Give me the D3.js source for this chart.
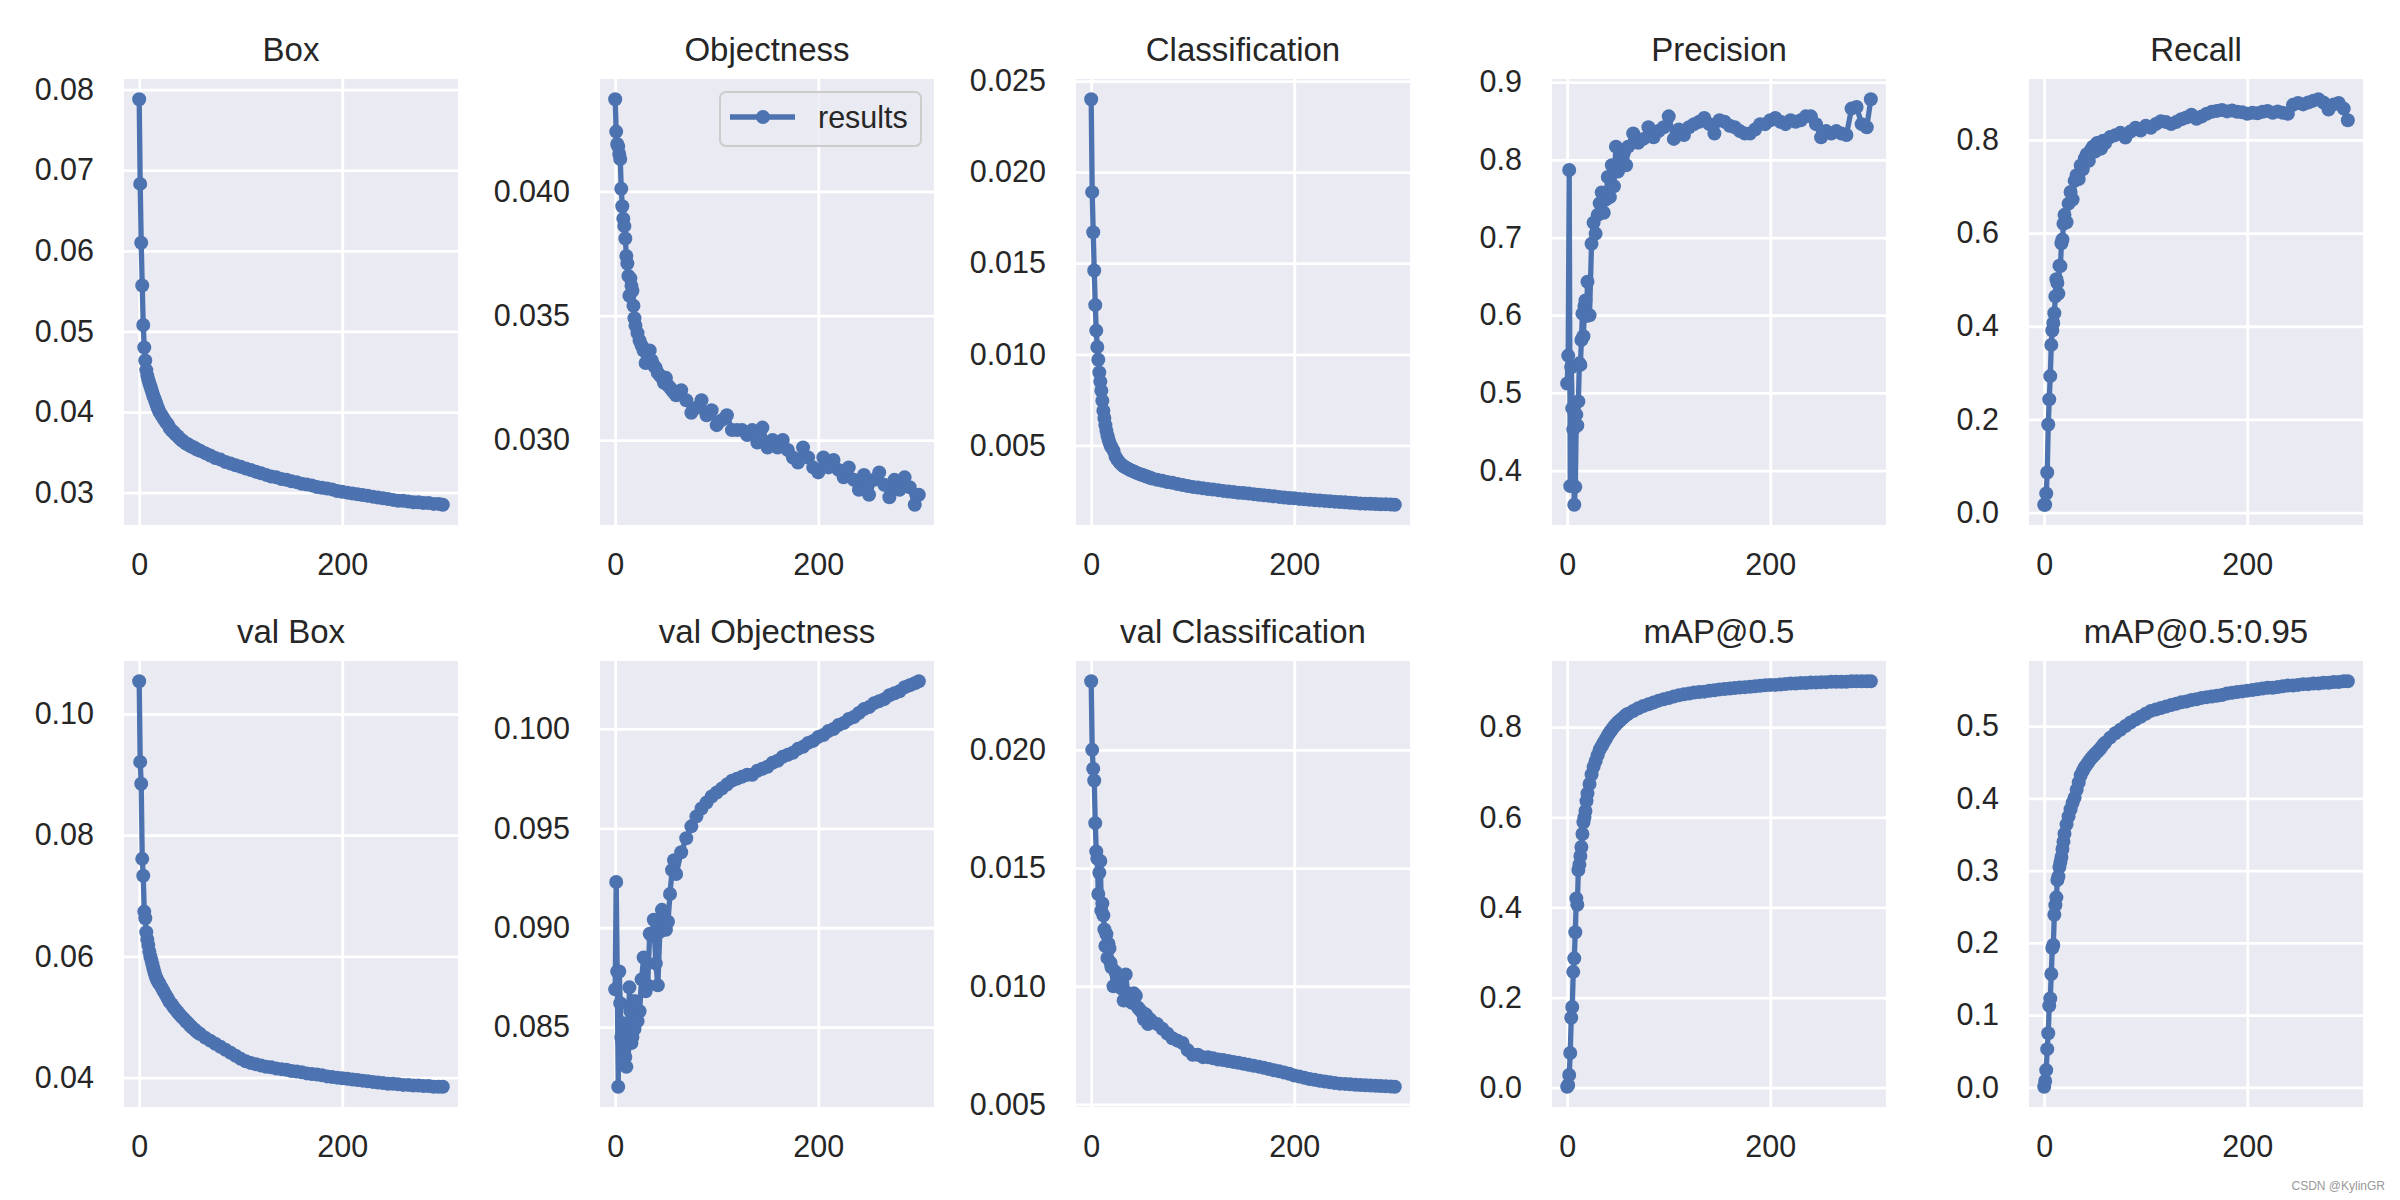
<!DOCTYPE html>
<html><head><meta charset="utf-8">
<script src="https://cdn.jsdelivr.net/npm/d3@7"></script>
<style>
body{margin:0;background:#fff;}
svg{display:block;font-family:"Liberation Sans",Arial,Helvetica,sans-serif;}
</style>
</head><body>
<svg id="chart" width="2400" height="1200"></svg>
<script>
// ---------- data ----------
const epochs = [0,1,2,3,4,5,6,7,8,9,10,11,12,13,14,15,16,17,18,19,
  20,22,24,26,28,30,32,34,36,38,40,42,44,46,48,50,52,54,56,58,60,
  65,70,75,80,85,90,95,100,105,110,115,120,125,130,135,140,145,150,155,160,165,170,175,180,185,190,195,200,205,210,215,220,225,230,235,240,245,250,255,260,265,270,275,280,285,290,295,
  299];

const titles = ["Box","Objectness","Classification","Precision","Recall",
  "val Box","val Objectness","val Classification","mAP@0.5","mAP@0.5:0.95"];

const boxLoss = [.0788,.0683,.0610,.0557,.0508,.0480,.0464,.0452,.0445,.0440,.0436,.0432,.0428,.0424,.0420,.0417,.0413,.0410,.0406,.0403,
  .0400,.0396,.0392,.0388,.0385,.0380,.0377,.0375,.0372,.0370,.0367,.0365,.0363,.0361,.0360,.0358,.0357,.0356,.0354,.0353,.0352,
  .0349,.0346,.0343,.0341,.0338,.0336,.0334,.0332,.0330,.0328,.0326,.0324,.0322,.0320,.0319,.0317,.0316,.0314,.0313,.0311,.0310,.0309,.0307,.0306,.0305,.0304,.0302,.0301,.0300,.0299,.0298,.0297,.0296,.0295,.0294,.0293,.0292,.0291,.0290,.0290,.0289,.0288,.0288,.0287,.0287,.0286,.0286,
  .0285];

const objLoss = [.0437,.0424,.0419,.0418,.0415,.0413,.0401,.0394,.0389,.0386,.0381,.0374,.0371,.0366,.0358,.0365,.0362,.0360,.0354,.0349,
  .0346,.0343,.0340,.0338,.0336,.0331,.0334,.0336,.0332,.0330,.0329,.0327,.0326,.0325,.0323,.0325,.0322,.0321,.0320,.0319,.0318,
  .0320,.0316,.0311,.0313,.0316,.0310,.0312,.0306,.0308,.0310,.0304,.0304,.0304,.0302,.0304,.0299,.0305,.0297,.0300,.0297,.0300,.0296,.0293,.0291,.0297,.0293,.0289,.0287,.0293,.0289,.0292,.0288,.0285,.0289,.0284,.0280,.0286,.0278,.0284,.0287,.0282,.0277,.0284,.0280,.0285,.0281,.0274,
  .0278];

const clsLoss = [.0240,.0189,.0167,.0146,.0127,.0113,.0104,.0097,.0090,.0085,.0080,.00745,.0069,.0065,.0061,.0058,.00555,.00535,.00515,.0050,
  .0049,.0047,.00438,.0042,.00405,.00394,.00385,.00378,.00372,.00366,.00361,.00356,.00351,.00346,.00342,.00338,.00334,.0033,.00326,.00322,.00318,
  .00311,.00305,.00299,.00294,.00288,.00282,.00277,.00272,.00268,.00264,.0026,.00257,.00254,.0025,.00247,.00244,.0024,.00238,.00235,.00232,.00229,.00226,.00223,.0022,.00217,.00214,.00211,.00209,.00206,.00204,.00201,.00199,.00197,.00195,.00193,.00191,.00189,.00187,.00185,.00183,.00181,.0018,.00179,.00178,.00177,.00176,.00175,
  .00174];

const precision = [.512,.548,.787,.380,.533,.480,.453,.356,.379,.472,.458,.489,.538,.536,.568,.602,.573,.612,.619,.599,
  .643,.600,.692,.719,.705,.729,.744,.758,.732,.749,.778,.752,.793,.766,.817,.785,.800,.793,.810,.793,.817,
  .834,.822,.827,.842,.829,.837,.842,.856,.827,.839,.832,.842,.846,.849,.854,.846,.834,.851,.849,.844,.842,.837,.834,.834,.839,.846,.846,.851,.854,.849,.846,.851,.849,.851,.856,.856,.846,.829,.837,.834,.837,.834,.832,.866,.868,.846,.842,
  .878];

const recall = [.017,.017,.041,.086,.189,.243,.293,.360,.391,.407,.428,.464,.501,.493,.470,.530,.529,.578,.586,.620,
  .639,.623,.663,.688,.672,.712,.724,.716,.745,.737,.760,.769,.755,.778,.785,.775,.793,.788,.781,.798,.793,
  .806,.810,.815,.805,.818,.826,.820,.830,.826,.834,.840,.838,.834,.838,.844,.848,.854,.845,.850,.856,.860,.862,.864,.861,.863,.860,.859,.856,.858,.857,.860,.862,.858,.861,.858,.856,.875,.879,.876,.880,.884,.887,.880,.865,.876,.879,.867,
  .842];

const valBoxLoss = [.1054,.0921,.0885,.0761,.0733,.0674,.0663,.0640,.0628,.0619,.0608,.0600,.0594,.0587,.0580,.0574,.0568,.0564,.0560,.0557,
  .0555,.0549,.0543,.0537,.0531,.0525,.0521,.0516,.0512,.0508,.0504,.0500,.0497,.0493,.0490,.0486,.0483,.0480,.0477,.0474,.0472,
  .0466,.0461,.0456,.0451,.0446,.0441,.0436,.0431,.0427,.0424,.0422,.0420,.0418,.0417,.0415,.0414,.0413,.0411,.0410,.0409,.0407,.0406,.0405,.0404,.0402,.0401,.0400,.0399,.0398,.0397,.0396,.0395,.0394,.0393,.0392,.0391,.0390,.0390,.0389,.0388,.0388,.0387,.0387,.0386,.0386,.0385,.0385,
  .0385];

const valObjLoss = [.0869,.0923,.0878,.0820,.0878,.0862,.0845,.0842,.0852,.0838,.0835,.0830,.0849,.0843,.0870,.0858,.0842,.0845,.0863,.0849,
  .0863,.0853,.0858,.0874,.0885,.0868,.0871,.0897,.0896,.0904,.0882,.0871,.0898,.0909,.0902,.0899,.0903,.0917,.0929,.0934,.0927,
  .0938,.0945,.0951,.0956,.0960,.0963,.0966,.0968,.0970,.0972,.0974,.0975,.0976,.0977,.0977,.0979,.0980,.0981,.0983,.0984,.0986,.0987,.0988,.0990,.0991,.0993,.0994,.0996,.0997,.0999,.1000,.1002,.1003,.1005,.1006,.1008,.1010,.1011,.1013,.1014,.1015,.1017,.1018,.1019,.1021,.1022,.1023,
  .1024];

const valClsLoss = [.0229,.0200,.0192,.0187,.0169,.0157,.0154,.0139,.0148,.0153,.0132,.0135,.0130,.0124,.0117,.0122,.0112,.0118,.0116,.0110,
  .0108,.0100,.0106,.0102,.0104,.0099,.0094,.0105,.0097,.0095,.0093,.0097,.0096,.0091,.0090,.0089,.0086,.0088,.0084,.0086,.0085,
  .0084,.0082,.0080,.0078,.0077,.0076,.0073,.0071,.0071,.0070,.0070,.00695,.0069,.00688,.00684,.0068,.00676,.00672,.00668,.00664,.0066,.00655,.0065,.00645,.0064,.00635,.0063,.00622,.00618,.00613,.00608,.00604,.0060,.00597,.00594,.00591,.00588,.00587,.00585,.00583,.00582,.00581,.0058,.00579,.00578,.00577,.00576,
  .00575];

const map50 = [.002,.006,.028,.077,.155,.179,.257,.287,.345,.420,.406,.483,.495,.514,.534,.563,.589,.600,.614,.636,
  .653,.674,.695,.712,.725,.738,.750,.758,.766,.774,.782,.789,.795,.801,.806,.811,.815,.819,.823,.827,.830,
  .836,.842,.847,.851,.855,.859,.862,.865,.868,.871,.873,.875,.877,.878,.879,.881,.882,.884,.885,.886,.887,.888,.889,.890,.891,.892,.893,.894,.894,.895,.896,.897,.897,.898,.898,.899,.899,.900,.900,.901,.901,.901,.901,.902,.902,.902,.902,
  .902];

const map5095 = [.001,.009,.024,.053,.075,.113,.123,.157,.193,.197,.239,.252,.263,.287,.292,.305,.312,.319,.330,.340,
  .351,.364,.375,.385,.394,.401,.412,.422,.432,.438,.443,.447,.451,.455,.458,.461,.464,.467,.470,.474,.477,
  .484,.490,.495,.500,.505,.509,.513,.517,.521,.523,.525,.527,.529,.531,.533,.534,.536,.537,.539,.540,.541,.542,.543,.545,.546,.547,.548,.549,.550,.551,.552,.553,.553,.554,.555,.556,.556,.557,.558,.558,.559,.559,.560,.560,.561,.561,.562,
  .562];

// tick labels
const xTickLabels = ["0","200"];
const boxTicks = ["0.03","0.04","0.05","0.06","0.07","0.08"];
const objTicks = ["0.030","0.035","0.040"];
const clsTicks = ["0.005","0.010","0.015","0.020","0.025"];
const precisionTicks = ["0.4","0.5","0.6","0.7","0.8","0.9"];
const recallTicks = ["0.0","0.2","0.4","0.6","0.8"];
const valBoxTicks = ["0.04","0.06","0.08","0.10"];
const valObjTicks = ["0.085","0.090","0.095","0.100"];
const valClsTicks = ["0.005","0.010","0.015","0.020"];
const map50Ticks = ["0.0","0.2","0.4","0.6","0.8"];
const map5095Ticks = ["0.0","0.1","0.2","0.3","0.4","0.5"];

const legendLabel = "results";
const watermark = "CSDN @KylinGR";

// ---------- drawing ----------
const series = [boxLoss, objLoss, clsLoss, precision, recall, valBoxLoss, valObjLoss, valClsLoss, map50, map5095];
const yTicks = [boxTicks, objTicks, clsTicks, precisionTicks, recallTicks, valBoxTicks, valObjTicks, valClsTicks, map50Ticks, map5095Ticks];

const BLUE = "#4C72B0", BG = "#EAEAF2", TXT = "#262626";
const colLeft = [124, 600, 1076, 1552, 2029], rowTop = [79, 661];
const W = 334, H = 446;
const MR = 7, LW = 5.3;
const svg = d3.select("#chart");
svg.append("rect").attr("width", 2400).attr("height", 1200).attr("fill", "#fff");

function padded(ext) { const p = (ext[1] - ext[0]) * 0.05; return [ext[0] - p, ext[1] + p]; }

series.forEach((vals, i) => {
  const c = i % 5, r = Math.floor(i / 5);
  const g = svg.append("g").attr("transform", `translate(${colLeft[c]},${rowTop[r]})`);
  const x = d3.scaleLinear().domain(padded(d3.extent(epochs))).range([0, W]);
  const y = d3.scaleLinear().domain(padded(d3.extent(vals))).range([H, 0]);
  const yt = yTicks[i];

  g.append("rect").attr("width", W).attr("height", H).attr("fill", BG);

  // grid
  const gx = g.append("g").attr("transform", `translate(0,${H})`)
    .call(d3.axisBottom(x).tickValues(xTickLabels.map(Number)).tickSize(-H).tickFormat(""));
  const gy = g.append("g")
    .call(d3.axisLeft(y).tickValues(yt.map(Number)).tickSize(-W).tickFormat(""));
  [gx, gy].forEach(a => {
    a.select(".domain").remove();
    a.selectAll("line").attr("stroke", "#fff").attr("stroke-width", 2.8);
  });
  gy.selectAll(".tick").filter(d => d < y.domain()[0] || d > y.domain()[1]).remove();

  // tick labels
  const lx = g.append("g").attr("transform", `translate(0,${H})`)
    .call(d3.axisBottom(x).tickValues(xTickLabels.map(Number)).tickFormat((d, k) => xTickLabels[k]).tickSize(0).tickPadding(28));
  const ly = g.append("g")
    .call(d3.axisLeft(y).tickValues(yt.map(Number)).tickFormat((d, k) => yt[k]).tickSize(0).tickPadding(30));
  [lx, ly].forEach(a => {
    a.select(".domain").remove();
    a.selectAll("text").attr("font-size", "30.5px").attr("fill", TXT)
      .attr("font-family", '"Liberation Sans",Arial,sans-serif');
  });

  // clip
  const cid = "clip" + i;
  g.append("clipPath").attr("id", cid).append("rect").attr("width", W).attr("height", H);
  const pts = vals.map((v, k) => [epochs[k], v]).filter(d => d[0] !== undefined);
  const pg = g.append("g").attr("clip-path", `url(#${cid})`);
  pg.append("path").datum(pts)
    .attr("d", d3.line().x(d => x(d[0])).y(d => y(d[1])))
    .attr("fill", "none").attr("stroke", BLUE).attr("stroke-width", LW)
    .attr("stroke-linejoin", "round").attr("stroke-linecap", "butt");
  pg.selectAll("circle").data(pts).join("circle")
    .attr("cx", d => x(d[0])).attr("cy", d => y(d[1])).attr("r", MR).attr("fill", BLUE);

  // title
  g.append("text").attr("x", W / 2).attr("y", -18).attr("text-anchor", "middle")
    .attr("font-size", "33px").attr("fill", TXT).text(titles[i]);

  // legend on the Objectness panel
  if (i === 1) {
    const lg = g.append("g");
    lg.append("rect").attr("x", 120).attr("y", 13).attr("width", 201).attr("height", 54)
      .attr("rx", 6).attr("fill", BG).attr("fill-opacity", 0.8).attr("stroke", "#CCCCCC").attr("stroke-width", 2);
    lg.append("line").attr("x1", 130).attr("x2", 195).attr("y1", 38).attr("y2", 38)
      .attr("stroke", BLUE).attr("stroke-width", LW);
    lg.append("circle").attr("cx", 163).attr("cy", 38).attr("r", MR).attr("fill", BLUE);
    lg.append("text").attr("x", 218).attr("y", 49).attr("font-size", "30.5px").attr("fill", TXT).text(legendLabel);
  }
});

svg.append("text").attr("x", 2385).attr("y", 1190).attr("text-anchor", "end")
  .attr("font-size", "12px").attr("fill", "#999999").text(watermark);
</script>
</body></html>
